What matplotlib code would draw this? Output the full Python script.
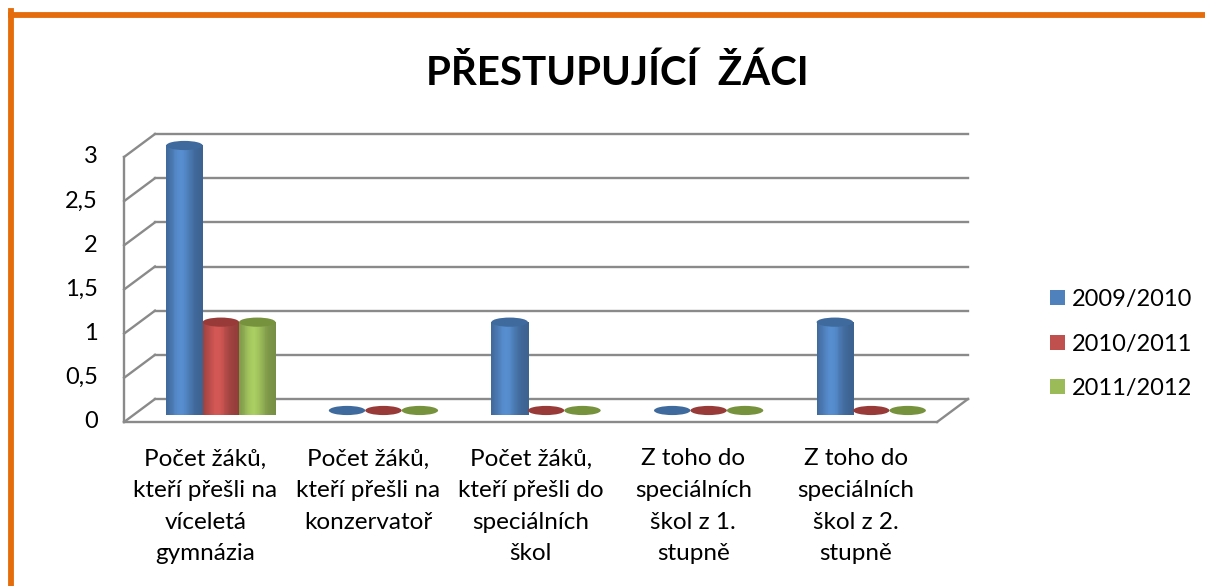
import matplotlib
matplotlib.use("Agg")
import matplotlib.pyplot as plt
import numpy as np
from matplotlib.lines import Line2D
from matplotlib.patches import Ellipse, Polygon, Rectangle, Patch

plt.rcParams["font.family"] = ["Lato", "DejaVu Sans"]

title = "PŘESTUPUJÍCÍ  ŽÁCI"
categories = [
    "Počet žáků,\nkteří přešli na\nvíceletá\ngymnázia",
    "Počet žáků,\nkteří přešli na\nkonzervatoř",
    "Počet žáků,\nkteří přešli do\nspeciálních\nškol",
    "Z toho do\nspeciálních\nškol z 1.\nstupně",
    "Z toho do\nspeciálních\nškol z 2.\nstupně",
]
series_names = ["2009/2010", "2010/2011", "2011/2012"]
s2009 = [3, 0, 1, 0, 1]
s2010 = [1, 0, 0, 0, 0]
s2011 = [1, 0, 0, 0, 0]
y_ticks = [0, 0.5, 1, 1.5, 2, 2.5, 3]

series = [s2009, s2010, s2011]
base_colors = ["#4F81BD", "#C0504D", "#9BBB59"]
top_colors = ["#3E6A9D", "#983B38", "#76923C"]

W, H = 1205, 586
fig = plt.figure(figsize=(W / 100, H / 100), dpi=100)
# back wall of the 3d box
ax = fig.add_axes([155 / W, 1 - 399 / H, (968 - 155) / W, (399 - 134) / H])
ax.set_xlim(-0.5, 4.5)
ax.set_ylim(0, 3)
ax.axis("off")

# depth offset (front plane vs back wall) in data units
DX, DY = -0.19, -0.26
grid_kw = dict(color="#8A8A8A", lw=1.7, clip_on=False, zorder=1)

for v in y_ticks:
    ax.plot([-0.5, 4.5], [v, v], **grid_kw)
    ax.plot([-0.5 + DX, -0.5], [v + DY, v], **grid_kw)
    ax.annotate(f"{v:g}".replace(".", ","), xy=(-0.5 + DX, v + DY),
                xytext=(-19, 0), textcoords="offset points",
                ha="right", va="center", fontsize=17, annotation_clip=False)
ax.plot([-0.5 + DX, -0.5 + DX], [DY, 3 + DY], **grid_kw)
ax.plot([-0.5 + DX, 4.5 + DX], [DY, DY], **grid_kw)
ax.plot([4.5 + DX, 4.5], [DY, 0], **grid_kw)


def shade(hex_color, t):
    rgb = np.array(matplotlib.colors.to_rgb(hex_color))
    f = 0.76 + 0.34 * np.exp(-((t - 0.4) / 0.3) ** 2)
    return np.clip(rgb * f, 0, 1)


def cylinder(xc, y0, v, w, base, top, z):
    eh = 0.052
    if v > 0:
        th = np.linspace(0, -np.pi, 40)
        pts = [(xc - w / 2, y0 + v), (xc + w / 2, y0 + v)]
        pts += [(xc + w / 2 * np.cos(a), y0 + eh * np.sin(a)) for a in th]
        clip = Polygon(pts, closed=True, transform=ax.transData)
        n = 40
        dw = w / n
        for k in range(n):
            r = Rectangle((xc - w / 2 + k * dw, y0 - eh), dw * 1.8, v + eh,
                          facecolor=shade(base, (k + 0.5) / n), lw=0,
                          clip_on=False, zorder=z)
            ax.add_patch(r)
            r.set_clip_path(clip)
    ax.add_patch(Ellipse((xc, y0 + v), w, 2 * eh, facecolor=top,
                         edgecolor="none", zorder=z + 0.1, clip_on=False))


bw = 0.224
for i in range(len(categories)):
    for j, vals in enumerate(series):
        xc = i + (j - 1) * bw + DX / 2
        cylinder(xc, DY / 2, vals[i], bw, base_colors[j], top_colors[j], 3 + i * 3 + j)
    ax.annotate(categories[i], xy=(i + DX, DY), xytext=(0, -19),
                textcoords="offset points", ha="center", va="top",
                fontsize=17.5, linespacing=1.63, annotation_clip=False)

fig.text(617 / W, 1 - 73 / H, title, ha="center", va="center",
         fontsize=29, fontweight="bold")

handles = [Patch(facecolor=c, edgecolor="none") for c in base_colors]
fig.legend(handles, series_names, loc="center left",
           bbox_to_anchor=(1050 / W, 1 - 344 / H), frameon=False,
           fontsize=17, handlelength=0.62, handleheight=0.62,
           handletextpad=0.3, labelspacing=1.0, borderpad=0, borderaxespad=0)

# orange frame
orange = "#E46C0A"
fig.add_artist(Line2D([11 / W, 11 / W], [0, 1 - 11 / H], color=orange, lw=4.2,
                      transform=fig.transFigure, solid_capstyle="projecting"))
fig.add_artist(Line2D([11 / W, 1], [1 - 14.5 / H, 1 - 14.5 / H], color=orange,
                      lw=4.2, transform=fig.transFigure))

fig.savefig("out.png", dpi=100)
